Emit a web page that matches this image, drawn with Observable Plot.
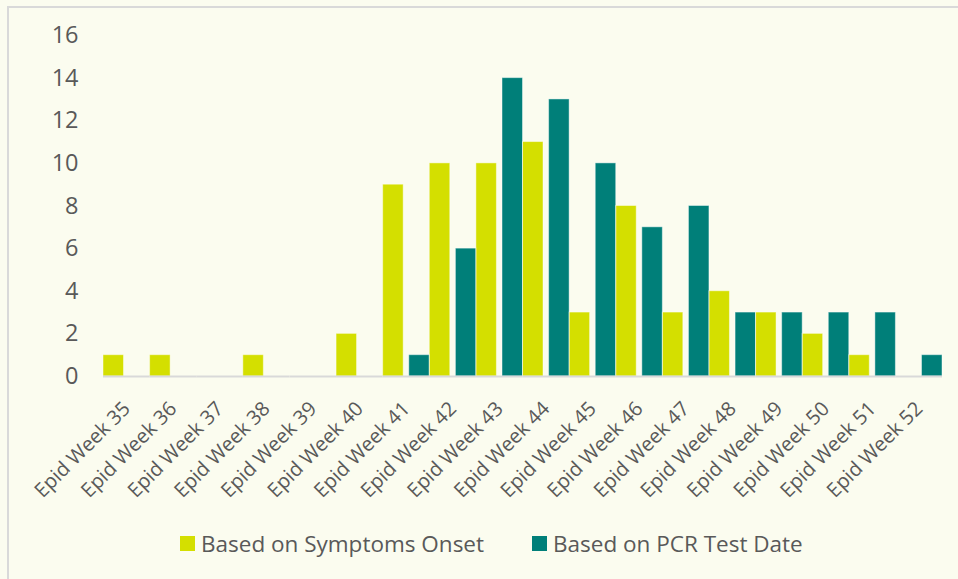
<!DOCTYPE html>
<html>
<head>
<meta charset="utf-8">
<script src="https://cdn.jsdelivr.net/npm/d3@7"></script>
<script src="https://cdn.jsdelivr.net/npm/@observablehq/plot@0.6"></script>
<style>
  html, body { margin: 0; padding: 0; background: #fbfcef; }
  #wrap { position: relative; width: 958px; height: 579px; overflow: hidden; background: #fbfcef; font-family: "Open Sans", sans-serif; }
  #frame { position: absolute; left: 7px; top: 6px; right: -10px; bottom: -10px; border-left: 2px solid #d9d9d9; border-top: 2px solid #d9d9d9; }
  #chart { position: absolute; left: 0; top: 0; }
  #legend { position: absolute; left: 180px; top: 528px; display: flex; align-items: center; font-size: 22.5px; color: #595959; white-space: nowrap; }
  .item { display: flex; align-items: center; margin-right: 48px; }
  .sw { width: 15px; height: 15px; margin-right: 6px; }
</style>
</head>
<body>
<div id="wrap">
  <div id="frame"></div>
  <div id="chart"></div>
  <div id="legend"></div>
</div>
<script>
const weeks = ["Epid Week 35","Epid Week 36","Epid Week 37","Epid Week 38","Epid Week 39","Epid Week 40","Epid Week 41","Epid Week 42","Epid Week 43","Epid Week 44","Epid Week 45","Epid Week 46","Epid Week 47","Epid Week 48","Epid Week 49","Epid Week 50","Epid Week 51","Epid Week 52"];
const symptomsOnset = [1,1,0,1,0,2,9,10,10,11,3,8,3,4,3,2,1,0];
const pcrTestDate   = [0,0,0,0,0,0,1,6,14,13,10,7,8,3,3,3,3,1];
const seriesNames = ["Based on Symptoms Onset","Based on PCR Test Date"];
const seriesColors = ["#d4df00","#007f79"];
const yTicks = [0,2,4,6,8,10,12,14,16];

const data = [];
weeks.forEach((w, i) => {
  data.push({week: w, series: seriesNames[0], value: symptomsOnset[i]});
  data.push({week: w, series: seriesNames[1], value: pcrTestDate[i]});
});

const chart = Plot.plot({
  width: 958,
  height: 500,
  marginLeft: 103,
  marginRight: 16,
  marginTop: 35,
  marginBottom: 124,
  style: { background: "transparent", fontFamily: "'Open Sans', sans-serif", color: "#595959", overflow: "visible" },
  fx: { domain: weeks, padding: 0, round: false, label: null },
  x: { domain: seriesNames, paddingInner: 0.215, paddingOuter: 0, round: false, axis: null },
  y: { domain: [0, 16], label: null },
  color: { domain: seriesNames, range: seriesColors },
  marks: [
    Plot.barY(data, { fx: "week", x: "series", y: "value", fill: "series" }),
    Plot.barY(data.filter(d => d.value > 0), {
      fx: "week", x: "series", y: "value", fill: "none",
      stroke: "#ffffff", strokeOpacity: 0.45, strokeWidth: 1
    }),
    Plot.ruleY([0], { stroke: "#d9d9d9", strokeWidth: 2 }),
    Plot.axisY(yTicks, { tickSize: 0, tickPadding: 25, fontSize: 23.5, fill: "#595959", label: null }),
    Plot.axisFx({ anchor: "bottom", tickRotate: -45, tickSize: 0, tickPadding: 29, fontSize: 20, fill: "#595959", label: null })
  ]
});
document.getElementById("chart").appendChild(chart);

const legend = document.getElementById("legend");
seriesNames.forEach((name, i) => {
  const item = document.createElement("div");
  item.className = "item";
  const sw = document.createElement("div");
  sw.className = "sw";
  sw.style.background = seriesColors[i];
  const t = document.createElement("span");
  t.textContent = name;
  item.appendChild(sw);
  item.appendChild(t);
  legend.appendChild(item);
});
</script>
</body>
</html>
